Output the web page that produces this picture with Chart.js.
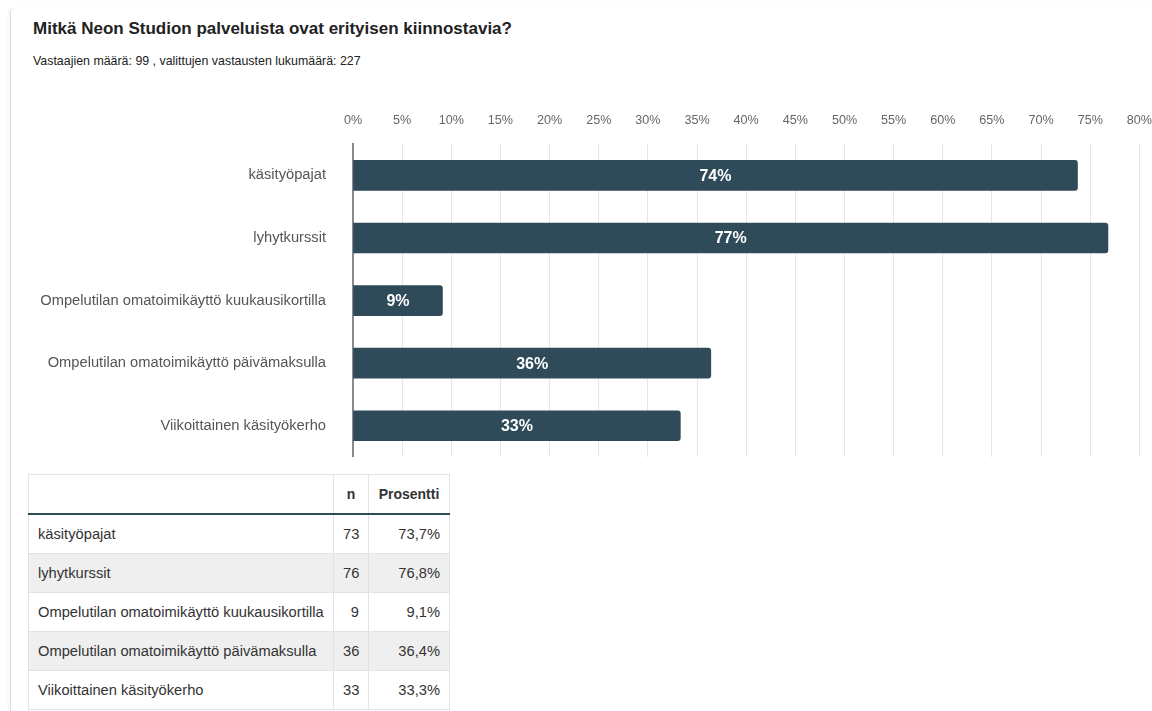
<!DOCTYPE html>
<html lang="fi">
<head>
    <meta charset="UTF-8">
    <title>Mitkä Neon Studion palveluista ovat erityisen kiinnostavia?</title>
    <script src="https://cdn.jsdelivr.net/npm/chart.js"></script>
    <style>
        html, body { margin: 0; padding: 0; background: #fff; }
        body {
            font-family: 'Liberation Sans', Arial, Helvetica, sans-serif;
            width: 1152px; height: 711px; position: relative; overflow: hidden;
        }
        .panel {
            position: absolute; left: 10px; top: 8px; width: 1200px; height: 720px;
            border-left: 1px solid #dedede;
            border-top-left-radius: 4px;
            box-shadow: -2px 0 3px rgba(0,0,0,0.04);
        }
        h1 {
            position: absolute; left: 33px; top: 19px; margin: 0;
            font-size: 17px; font-weight: bold; color: #222;
        }
        .sub {
            position: absolute; left: 33px; top: 54px; margin: 0;
            font-size: 12.4px; color: #222;
        }
        .chart-box { position: absolute; left: 0; top: 85px; width: 1168px; height: 372px; }
        table {
            position: absolute; left: 28px; top: 474px; table-layout: fixed; width: 421px;
            border-collapse: collapse; font-size: 14.7px; color: #333;
        }
        td, th { border: 1px solid #e3e3e3; height: 38px; padding: 0 9px; white-space: nowrap; }
        th { font-weight: bold; font-size: 14px; color: #333; border-bottom: 2px solid #2f4a59; }
        td.num { text-align: right; }
        th.num { text-align: center; padding: 0; }
        tr.alt td { background: #efefef; }
    </style>
</head>
<body>
    <div class="panel"></div>
    <h1>Mitkä Neon Studion palveluista ovat erityisen kiinnostavia?</h1>
    <p class="sub">Vastaajien määrä: 99 , valittujen vastausten lukumäärä: 227</p>

    <div class="chart-box"><canvas id="chart"></canvas></div>

    <table>
        <colgroup>
            <col style="width:305px">
            <col style="width:35px">
            <col style="width:81px">
        </colgroup>
        <thead>
            <tr><th></th><th class="num">n</th><th class="num">Prosentti</th></tr>
        </thead>
        <tbody id="rows"></tbody>
    </table>

    <script>
        // data
        const categories = [
            'käsityöpajat',
            'lyhytkurssit',
            'Ompelutilan omatoimikäyttö kuukausikortilla',
            'Ompelutilan omatoimikäyttö päivämaksulla',
            'Viikoittainen käsityökerho'
        ];
        const counts = [73, 76, 9, 36, 33];
        const percents = [73.7, 76.8, 9.1, 36.4, 33.3];
        const tickValues = [0, 5, 10, 15, 20, 25, 30, 35, 40, 45, 50, 55, 60, 65, 70, 75, 80];

        const barColor = '#2f4a59';
        const font = "'Liberation Sans', Arial, Helvetica, sans-serif";

        // table
        const tbody = document.getElementById('rows');
        categories.forEach((c, i) => {
            const tr = document.createElement('tr');
            if (i % 2 === 1) tr.className = 'alt';
            tr.innerHTML = `<td>${c}</td><td class="num">${counts[i]}</td><td class="num">${percents[i].toFixed(1).replace('.', ',')}%</td>`;
            tbody.appendChild(tr);
        });

        // category labels left of the axis and value labels inside the bars
        const labelsPlugin = {
            id: 'labelsPlugin',
            afterDatasetsDraw(chart) {
                const ctx = chart.ctx;
                const yScale = chart.scales.y;
                const meta = chart.getDatasetMeta(0);
                ctx.save();
                ctx.textBaseline = 'middle';

                ctx.font = '14.7px ' + font;
                ctx.fillStyle = '#555';
                ctx.textAlign = 'right';
                categories.forEach((c, i) => {
                    ctx.fillText(c, chart.chartArea.left - 27, yScale.getPixelForValue(i));
                });

                ctx.font = 'bold 16px ' + font;
                ctx.fillStyle = '#fff';
                ctx.textAlign = 'center';
                meta.data.forEach((bar, i) => {
                    ctx.fillText(Math.round(percents[i]) + '%', (bar.base + bar.x) / 2, bar.y + 1);
                });
                ctx.restore();
            }
        };

        new Chart(document.getElementById('chart'), {
            type: 'bar',
            data: {
                labels: categories,
                datasets: [{
                    data: percents,
                    backgroundColor: barColor,
                    borderRadius: 3,
                    borderSkipped: 'start',
                    barThickness: 30
                }]
            },
            options: {
                indexAxis: 'y',
                responsive: true,
                maintainAspectRatio: false,
                animation: false,
                layout: { padding: { top: 12, right: 0, bottom: 0, left: 0 } },
                plugins: { legend: { display: false }, tooltip: { enabled: false } },
                scales: {
                    x: {
                        position: 'top',
                        min: 0,
                        max: 80,
                        afterBuildTicks(scale) {
                            scale.ticks = tickValues.map(v => ({ value: v }));
                        },
                        ticks: {
                            callback: v => v + '%',
                            color: '#666',
                            font: { family: font, size: 12.6 },
                            padding: 16,
                            maxRotation: 0
                        },
                        grid: {
                            color: ctx => ctx.tick && ctx.tick.value === 0 ? 'rgba(0,0,0,0)' : '#e6e6e6',
                            drawTicks: false
                        },
                        border: { display: false }
                    },
                    y: {
                        afterFit(scale) { scale.width = 353; },
                        ticks: { display: false },
                        grid: { display: false, drawTicks: false },
                        border: { display: true, color: '#8a8a8a', width: 2 }
                    }
                }
            },
            plugins: [labelsPlugin]
        });
    </script>
</body>
</html>
